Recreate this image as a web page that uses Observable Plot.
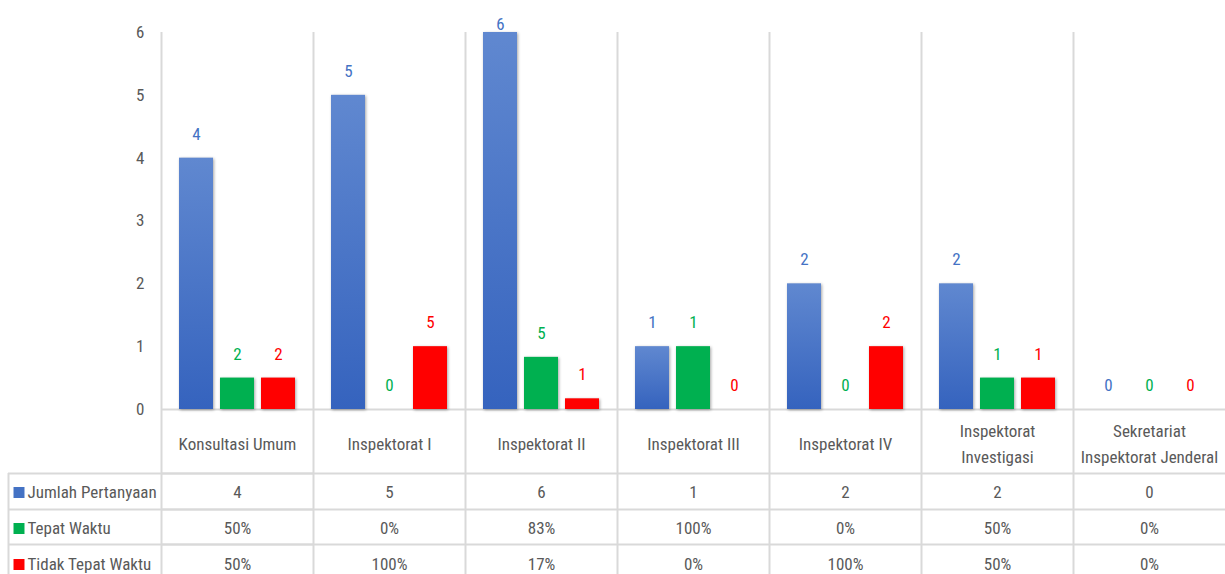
<!DOCTYPE html>
<html><head><meta charset="utf-8">
<script src="https://cdn.jsdelivr.net/npm/d3@7"></script>
<script src="https://cdn.jsdelivr.net/npm/@observablehq/plot@0.6"></script>
<style>
html,body{margin:0;padding:0;background:#fff;overflow:hidden;}
</style></head><body><div id="chart"></div>
<script>
// ---- data ----
const categories = ["Konsultasi Umum", "Inspektorat I", "Inspektorat II", "Inspektorat III", "Inspektorat IV", "Inspektorat\nInvestigasi", "Sekretariat\nInspektorat Jenderal"];
const jumlahPertanyaan = [4, 5, 6, 1, 2, 2, 0];
const tepatWaktu = [2, 0, 5, 1, 0, 1, 0];
const tidakTepatWaktu = [2, 5, 1, 0, 2, 1, 0];
const tepatWaktuPct = [50, 0, 83, 100, 0, 50, 0];
const tidakTepatWaktuPct = [50, 100, 17, 0, 100, 50, 0];
const seriesNames = ["Jumlah Pertanyaan", "Tepat Waktu", "Tidak Tepat Waktu"];
const yTicks = [0, 1, 2, 3, 4, 5, 6];

// ---- styles / layout ----
const seriesColors = ["#4472c4", "#00b050", "#ff0000"];
const barFills = ["url(#blueGrad)", "#00b050", "#ff0000"];
const textColor = "#595959";
const grid = "#d9d9d9";
const W = 1225, H = 574, mL = 161, mT = 32, mB = 165;
const facetW = (W - mL) / categories.length;
const frameH = H - mT - mB;
const rowDy = [83, 119, 155];   // table row centres below baseline
const lineDy = [64, 100, 135];  // table row separators below baseline
const yMax = 6;

const bars = categories.flatMap((cat, i) => [
  {cat, series: seriesNames[0], value: jumlahPertanyaan[i], label: jumlahPertanyaan[i]},
  {cat, series: seriesNames[1], value: tepatWaktuPct[i] / 100, label: tepatWaktu[i]},
  {cat, series: seriesNames[2], value: tidakTepatWaktuPct[i] / 100, label: tidakTepatWaktu[i]}
]);
const rows = categories.map((cat, i) => ({
  cat,
  jumlah: String(jumlahPertanyaan[i]),
  tepat: tepatWaktuPct[i] + "%",
  tidak: tidakTepatWaktuPct[i] + "%"
}));
const first = rows.slice(0, 1);
const rowKeys = ["jumlah", "tepat", "tidak"];

const marks = [
  // vertical category separators
  Plot.ruleX(rows, {fx: "cat", x: null, dx: -facetW / 2, stroke: grid, strokeWidth: 2, insetBottom: -mB}),
  // baseline
  Plot.ruleY(rows, {fx: "cat", y: () => 0, stroke: grid, strokeWidth: 2}),
  // table row lines
  ...lineDy.map(dy => Plot.ruleY(rows, {fx: "cat", y: () => 0, dy, stroke: grid, strokeWidth: 2})),
  ...lineDy.map(dy => Plot.ruleY(first, {fx: "cat", y: () => 0, dy, insetLeft: -(mL - 8), stroke: grid, strokeWidth: 2})),
  // left edge of the table
  Plot.ruleX(first, {fx: "cat", x: null, dx: -facetW / 2 - (mL - 8), insetTop: frameH + lineDy[0], insetBottom: -mB, stroke: grid, strokeWidth: 2}),
  // bars
  Plot.barY(bars, {fx: "cat", x: "series", y: "value", fill: "series"}),
  // value labels
  ...seriesNames.map((s, k) => Plot.text(bars.filter(d => d.series === s), {
    fx: "cat", x: "series", y: d => Math.min(d.value, yMax - 0.25), text: "label",
    dy: -24, lineAnchor: "middle", fill: seriesColors[k]
  })),
  // category labels
  Plot.text(rows, {fx: "cat", text: "cat", frameAnchor: "bottom", dy: 32, lineAnchor: "middle", lineHeight: 1.55, fill: textColor}),
  // table values
  ...rowKeys.map((key, k) => Plot.text(rows, {fx: "cat", text: key, frameAnchor: "bottom", dy: rowDy[k], lineAnchor: "middle", fill: textColor})),
  // table row headers with legend keys
  ...seriesNames.map((s, k) => Plot.dot(first, {fx: "cat", frameAnchor: "bottom-left", dx: 18.5 - mL, dy: rowDy[k], symbol: "square", r: 6.2, fill: seriesColors[k]})),
  ...seriesNames.map((s, k) => Plot.text(first, {fx: "cat", text: () => s, frameAnchor: "bottom-left", textAnchor: "start", dx: 27 - mL, dy: rowDy[k], lineAnchor: "middle", fill: textColor}))
];

const svg = Plot.plot({
  width: W, height: H,
  marginLeft: mL, marginRight: 0, marginTop: mT, marginBottom: mB,
  style: {fontFamily: "'Liberation Sans Narrow', 'Arial Narrow', 'Roboto Condensed', 'Open Sans', sans-serif", fontSize: "17px", color: textColor, background: "white", overflow: "visible"},
  fx: {domain: categories, axis: null, padding: 0},
  x: {domain: seriesNames, axis: null, paddingInner: 7 / 42, paddingOuter: 0.393},
  y: {domain: [0, yMax], ticks: yTicks, tickFormat: "d", tickSize: 0, tickPadding: 17, label: null},
  color: {domain: seriesNames, range: barFills},
  marks
});

const defs = d3.select(svg).insert("defs", ":first-child");
const grad = defs.append("linearGradient").attr("id", "blueGrad").attr("x1", 0).attr("y1", 0).attr("x2", 0).attr("y2", 1);
grad.append("stop").attr("offset", "0%").attr("stop-color", "#6088d0");
grad.append("stop").attr("offset", "100%").attr("stop-color", "#3563be");
d3.select(svg).selectAll('g[aria-label="bar"] rect').style("filter", "drop-shadow(1px 1px 1.5px rgba(0,0,0,0.35))");

document.getElementById("chart").appendChild(svg);
</script></body></html>
